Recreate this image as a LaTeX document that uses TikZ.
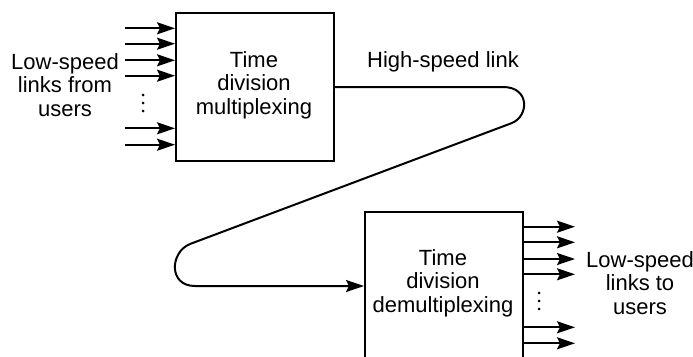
\documentclass[tikz,border=0pt]{standalone}
\usepackage{fontspec}
\setmainfont{Liberation Sans}
\usetikzlibrary{arrows.meta}
\begin{document}
\begin{tikzpicture}[x=1pt,y=1pt,
  line width=2pt,
  lbl/.style={font=\fontsize{22}{23.5}\selectfont, align=center, inner sep=0pt},
  blk/.style={draw, minimum width=158pt, minimum height=148pt, inner sep=0pt},
  arr/.style={-{Stealth[length=18pt,width=12pt,inset=3pt]}},
  dotc/.style={fill, circle, inner sep=0pt, minimum size=3pt}]
\useasboundingbox (0,0) rectangle (693,-356);
\clip (0,0) rectangle (693,-356);
% boxes
\node[blk] (mux) at (255,-87) {};
\node[lbl] (muxt) at (254,-85) {Time\\division\\multiplexing};
\node[blk] (demux) at (444,-286) {};
\node[lbl] (demuxt) at (443,-283) {Time\\division\\demultiplexing};
% labels
\node[lbl] (inlbl) at (65,-85) {Low-speed\\links from\\users};
\node[lbl] (outlbl) at (640,-283) {Low-speed\\links to\\users};
\node[lbl] (hs) at (443,-62) {High-speed link};
% input arrows
\foreach \n/\y in {1/28.3,2/43.7,3/60.3,4/75.7,5/128.3,6/144.7}{
  \coordinate (i\n) at (125,-\y);
  \draw[arr] (i\n) -- (i\n -| mux.west);
}
\node[dotc] (d1) at (143,-95) {};
\node[dotc] (d2) at (143,-103) {};
\node[dotc] (d3) at (143,-111) {};
% output arrows
\foreach \n/\y in {1/226.7,2/242.3,3/259,4/274.3,5/327.3,6/343.3}{
  \coordinate (o\n) at (575,-\y);
  \draw[arr] (o\n -| demux.east) -- (o\n);
}
\node[dotc] (e1) at (539,-293) {};
\node[dotc] (e2) at (539,-301) {};
\node[dotc] (e3) at (539,-309) {};
% high-speed link
\coordinate (r1) at (503,-87);
\coordinate (r2) at (512,-123);
\coordinate (l1) at (190,-244);
\coordinate (l2) at (195,-286);
\draw[arr] (mux.east) -- (r1)
  .. controls (530,-87) and (529,-116) .. (r2)
  -- (l1)
  .. controls (170,-252) and (168,-286) .. (l2)
  -- (demux.west);
\end{tikzpicture}
\end{document}
